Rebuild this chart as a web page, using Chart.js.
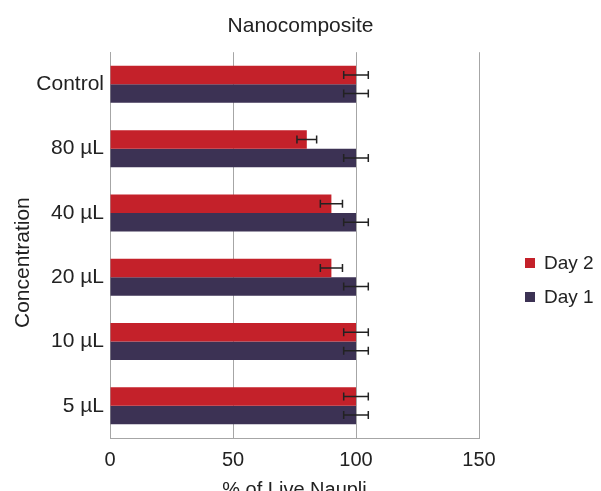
<!DOCTYPE html>
<html>
<head>
<meta charset="utf-8">
<script src="https://cdn.jsdelivr.net/npm/chart.js@4"></script>
<style>
  body { margin: 0; background: #fff; }
  canvas { display: block; }
</style>
</head>
<body>
<canvas id="chart" width="601" height="491"></canvas>
<script>
// datos
const concentraciones = ['Control', '80 µL', '40 µL', '20 µL', '10 µL', '5 µL'];
const dia2 = [100, 80, 90, 90, 100, 100];
const dia2Err = [5, 4, 4.5, 4.5, 5, 5];
const dia1 = [100, 100, 100, 100, 100, 100];
const dia1Err = [5, 5, 5, 5, 5, 5];
const ticksX = [0, 50, 100, 150];

const ROJO = '#c4212a';
const MORADO = '#3c3254';
const TEXTO = '#222';
const FUENTE = "'Liberation Sans', Arial, sans-serif";

// barras de error (simetricas)
const errorBars = {
    id: 'errorBars',
    afterDatasetsDraw(chart) {
        const ctx = chart.ctx;
        const x = chart.scales.x;
        ctx.save();
        ctx.strokeStyle = TEXTO;
        ctx.lineWidth = 1.5;
        chart.data.datasets.forEach((ds, i) => {
            const meta = chart.getDatasetMeta(i);
            meta.data.forEach((bar, j) => {
                const v = ds.data[j];
                const e = ds.errores[j];
                const x0 = x.getPixelForValue(v - e);
                const x1 = x.getPixelForValue(v + e);
                const y = bar.y;
                ctx.beginPath();
                ctx.moveTo(x0, y); ctx.lineTo(x1, y);
                ctx.moveTo(x0, y - 4); ctx.lineTo(x0, y + 4);
                ctx.moveTo(x1, y - 4); ctx.lineTo(x1, y + 4);
                ctx.stroke();
            });
        });
        ctx.restore();
    }
};

// leyenda a la derecha, dibujada a mano
const leyenda = {
    id: 'leyenda',
    afterDraw(chart) {
        const ctx = chart.ctx;
        ctx.save();
        ctx.font = '19px ' + FUENTE;
        ctx.textBaseline = 'middle';
        chart.data.datasets.forEach((ds, i) => {
            const y = 263 + i * 34;
            ctx.fillStyle = ds.backgroundColor;
            ctx.fillRect(525, y - 5, 10, 10);
            ctx.fillStyle = TEXTO;
            ctx.fillText(ds.label, 544, y + 1);
        });
        ctx.restore();
    }
};

new Chart(document.getElementById('chart'), {
    type: 'bar',
    data: {
        labels: concentraciones,
        datasets: [
            { label: 'Day 2', data: dia2, errores: dia2Err, backgroundColor: ROJO },
            { label: 'Day 1', data: dia1, errores: dia1Err, backgroundColor: MORADO }
        ]
    },
    options: {
        indexAxis: 'y',
        responsive: false,
        animation: false,
        categoryPercentage: 0.575,
        barPercentage: 1,
        layout: { padding: 0 },
        plugins: {
            legend: { display: false },
            tooltip: { enabled: false },
            title: {
                display: true,
                text: 'Nanocomposite',
                color: TEXTO,
                font: { family: FUENTE, size: 21, weight: 'normal' },
                padding: { top: 14, bottom: 13 }
            }
        },
        scales: {
            x: {
                min: 0,
                max: 150,
                afterBuildTicks(s) { s.ticks = ticksX.map(v => ({ value: v })); },
                afterFit(s) { s.height = 53; },
                grid: { color: '#a6a6a6', lineWidth: 1, drawTicks: false },
                border: { color: '#a6a6a6' },
                ticks: {
                    padding: 10,
                    color: TEXTO,
                    font: { family: FUENTE, size: 20 }
                },
                title: {
                    display: true,
                    text: '% of Live Naupli',
                    color: TEXTO,
                    font: { family: FUENTE, size: 20 },
                    padding: { top: 6, bottom: -11 }
                }
            },
            y: {
                afterFit(s) { s.width = 110; },
                grid: { display: false, drawTicks: false },
                border: { display: true, color: '#a6a6a6' },
                ticks: {
                    padding: 6,
                    color: TEXTO,
                    font: { family: FUENTE, size: 21 }
                },
                title: {
                    display: true,
                    // espacios al final para bajar el titulo como en el original
                    text: 'Concentration' + '\u00a0'.repeat(6),
                    color: TEXTO,
                    font: { family: FUENTE, size: 21 },
                    padding: { top: 10.5, bottom: 2 }
                }
            },
            // espacio reservado para la leyenda
            y2: {
                type: 'linear',
                position: 'right',
                afterFit(s) { s.width = 122; },
                grid: { display: false },
                border: { display: false },
                ticks: { display: false }
            }
        }
    },
    plugins: [errorBars, leyenda]
});
</script>
</body>
</html>
